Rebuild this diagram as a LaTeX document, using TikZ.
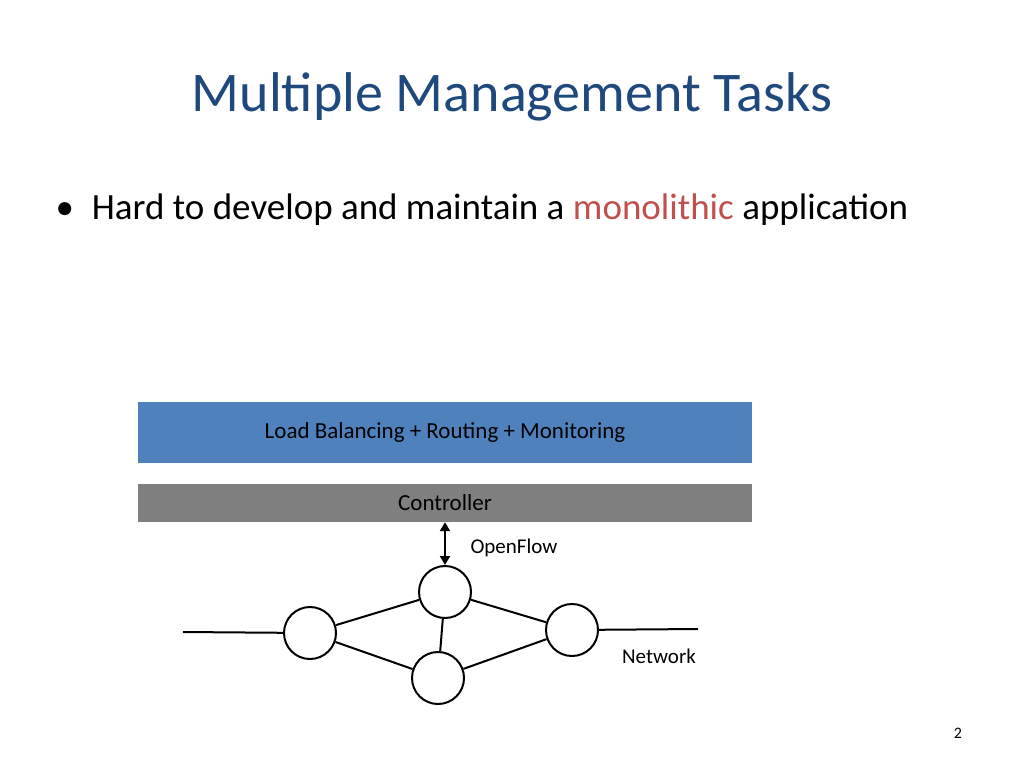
\documentclass[tikz,border=0pt]{standalone}
\usepackage{fontspec}
\setmainfont{Carlito}
\usetikzlibrary{arrows.meta}
\definecolor{titleblue}{HTML}{1F497D}
\definecolor{boxblue}{HTML}{4F81BD}
\definecolor{boxgray}{HTML}{7F7F7F}
\definecolor{accent}{HTML}{C0504D}
\tikzset{sw/.style={circle,draw,line width=2pt,minimum size=52pt,inner sep=0pt,fill=white},
 wire/.style={line width=2pt}}
\begin{document}
\begin{tikzpicture}[x=1pt,y=-1pt]
\useasboundingbox (0,0) rectangle (1024,768);
\node[text=titleblue,font=\fontsize{56}{60}\selectfont] (title) at (512,97) {Multiple Management Tasks};
\node[anchor=west,font=\fontsize{37}{40}\selectfont] (bul) at (52,210) {•\hspace{18pt}Hard to develop and maintain a \textcolor{accent}{monolithic} application};
\node[fill=boxblue,minimum width=614pt,minimum height=61pt,inner sep=0pt,font=\fontsize{23}{26}\selectfont] (app) at (445,432.5) {Load Balancing + Routing + Monitoring};
\node[fill=boxgray,minimum width=614pt,minimum height=38pt,inner sep=0pt,font=\fontsize{23}{26}\selectfont] (ctl) at (445,503) {Controller};
\node[sw] (t) at (445,592) {};
\node[sw] (l) at (310,633) {};
\node[sw] (r) at (572,630) {};
\node[sw] (b) at (438,678) {};
\coordinate (le) at (183,632);
\coordinate (re) at (698,629);
\draw[wire] (le) -- (l) (r) -- (re) (l) -- (t) (l) -- (b) (t) -- (r) (b) -- (r) (t) -- (b);
\draw[line width=2pt,{Triangle[length=9pt,width=10pt]}-{Triangle[length=9pt,width=10pt]}] (ctl.south -| t) -- (t);
\node[anchor=west,font=\fontsize{21}{24}\selectfont] (of) at (467,548) {OpenFlow};
\node[font=\fontsize{21}{24}\selectfont] (net) at (659,656) {Network};
\node[font=\fontsize{16}{18}\selectfont] (pg) at (958,733) {2};
\end{tikzpicture}
\end{document}
